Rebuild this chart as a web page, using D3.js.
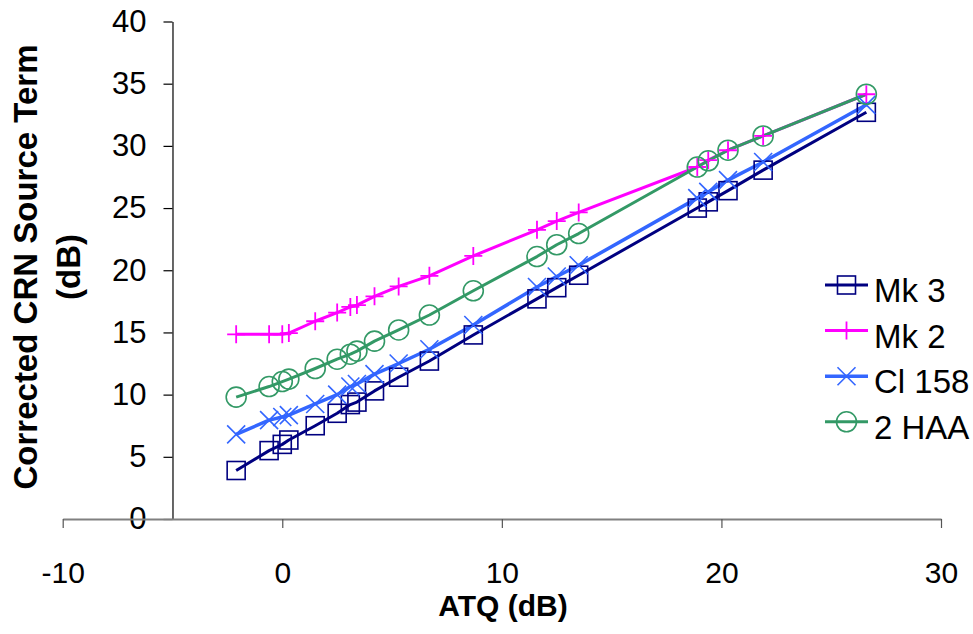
<!DOCTYPE html>
<html>
<head>
<meta charset="utf-8">
<script src="https://cdn.jsdelivr.net/npm/d3@7"></script>
<style>
  body { margin: 0; background: #fff; }
  svg { display: block; font-family: "Liberation Sans", Arial, sans-serif; }
</style>
</head>
<body>
<div id="chart"></div>
<script>
// x values (ATQ, dB) shared by all series
const atq = [-2.1, -0.6, 0.0, 0.3, 1.5, 2.5, 3.1, 3.4, 4.2, 5.3, 6.7, 8.7, 11.6, 12.5, 13.5, 18.9, 19.4, 20.3, 21.9, 26.6];

// corrected CRN source term (dB) per vehicle
const mk3   = [3.9, 5.5, 6.0, 6.35, 7.5, 8.5, 9.2, 9.4, 10.3, 11.4, 12.7, 14.8, 17.7, 18.6, 19.6, 25.0, 25.5, 26.4, 28.05, 32.7];
const mk2   = [14.85, 14.85, 14.85, 14.95, 15.9, 16.6, 17.05, 17.2, 17.9, 18.7, 19.55, 21.15, 23.25, 23.95, 24.65, 28.3, 28.85, 29.65, 30.8, 34.15];
const cl158 = [6.8, 7.95, 8.2, 8.35, 9.25, 10.0, 10.65, 10.85, 11.65, 12.5, 13.65, 15.6, 18.65, 19.5, 20.4, 25.8, 26.3, 27.25, 28.7, 33.3];
const haa2  = [9.8, 10.65, 11.05, 11.25, 12.1, 12.85, 13.25, 13.5, 14.3, 15.2, 16.4, 18.35, 21.1, 22.05, 22.95, 28.3, 28.8, 29.65, 30.8, 34.15];

const seriesNames = ["Mk 3", "Mk 2", "Cl 158", "2 HAA"];
const xTicks = [-10, 0, 10, 20, 30];
const yTicks = [0, 5, 10, 15, 20, 25, 30, 35, 40];

const width = 973;
const height = 634;

const series = [
  { name: seriesNames[0], values: mk3,   color: "#000080", marker: "square", lw: 3 },
  { name: seriesNames[1], values: mk2,   color: "#FF00FF", marker: "plus",   lw: 3 },
  { name: seriesNames[2], values: cl158, color: "#3366FF", marker: "cross",  lw: 3.5 },
  { name: seriesNames[3], values: haa2,  color: "#339966", marker: "circle", lw: 3 }
];

const x = d3.scaleLinear().domain([-10, 30]).range([62.7, 941]);
const y = d3.scaleLinear().domain([0, 40]).range([519, 21.5]);

const svg = d3.select("#chart")
  .append("svg")
  .attr("width", width)
  .attr("height", height);

// plain hyphen for negatives, like the original
const fmt = d => String(d);

// y axis crosses at x = -5, drawn black
const yAxis = svg.append("g")
  .attr("transform", `translate(${x(-5)},0)`)
  .call(d3.axisLeft(y).tickValues(yTicks).tickFormat(fmt).tickSize(9).tickPadding(17).tickSizeOuter(0));
yAxis.select(".domain").attr("stroke", "#000").attr("stroke-width", 1.2);
yAxis.selectAll(".tick line").attr("stroke", "#000").attr("stroke-width", 1.2);
yAxis.selectAll(".tick text")
  .attr("font-size", 31)
  .attr("fill", "#000")
  .attr("font-family", "Liberation Sans, Arial, sans-serif");

// x axis at y = 0, grey
const xAxis = svg.append("g")
  .attr("transform", `translate(0,${y(0)})`)
  .call(d3.axisBottom(x).tickValues(xTicks).tickFormat(fmt).tickSize(9).tickPadding(34).tickSizeOuter(0));
xAxis.select(".domain").attr("stroke", "#808080").attr("stroke-width", 2.2);
xAxis.selectAll(".tick line").attr("stroke", "#555").attr("stroke-width", 1.2);
xAxis.selectAll(".tick text")
  .attr("font-size", 30)
  .attr("fill", "#000")
  .attr("font-family", "Liberation Sans, Arial, sans-serif");

// axis titles
svg.append("text")
  .attr("x", 503)
  .attr("y", 616)
  .attr("text-anchor", "middle")
  .attr("font-size", 30)
  .attr("font-weight", "bold")
  .text("ATQ (dB)");

const yTitle = svg.append("text")
  .attr("transform", "translate(37,267) rotate(-90)")
  .attr("text-anchor", "middle")
  .attr("font-size", 33)
  .attr("font-weight", "bold");
yTitle.append("tspan").attr("x", 0).attr("y", 0).text("Corrected CRN Source Term");
yTitle.append("tspan").attr("x", 0).attr("y", 43).text("(dB)");

// lines first, then markers (like Excel)
const line = d3.line()
  .x((d, i) => x(atq[i]))
  .y(d => y(d));

svg.append("g")
  .attr("fill", "none")
  .selectAll("path")
  .data(series)
  .join("path")
  .attr("stroke", d => d.color)
  .attr("stroke-width", d => d.lw)
  .attr("stroke-linejoin", "round")
  .attr("d", d => line(d.values));

function drawMarker(g, type, color) {
  const s = 9; // half size
  if (type === "square") {
    g.append("rect")
      .attr("x", -s).attr("y", -s).attr("width", 2 * s).attr("height", 2 * s)
      .attr("fill", "none").attr("stroke", color).attr("stroke-width", 1.6);
  } else if (type === "plus") {
    g.append("path")
      .attr("d", `M${-s},0H${s}M0,${-s}V${s}`)
      .attr("stroke", color).attr("stroke-width", 1.8);
  } else if (type === "cross") {
    g.append("path")
      .attr("d", `M${-s},${-s}L${s},${s}M${-s},${s}L${s},${-s}`)
      .attr("stroke", color).attr("stroke-width", 1.6);
  } else {
    g.append("circle")
      .attr("r", 10)
      .attr("fill", "none").attr("stroke", color).attr("stroke-width", 1.6);
  }
}

series.forEach(s => {
  const pts = svg.append("g")
    .selectAll("g")
    .data(s.values)
    .join("g")
    .attr("transform", (d, i) => `translate(${x(atq[i])},${y(d)})`);
  pts.each(function () { drawMarker(d3.select(this), s.marker, s.color); });
});

// legend
const legend = svg.append("g").attr("transform", "translate(825,285)");
const row = legend.selectAll("g")
  .data(series)
  .join("g")
  .attr("transform", (d, i) => `translate(0,${i * 45.6})`);

row.append("line")
  .attr("x1", 0).attr("x2", 43)
  .attr("stroke", d => d.color)
  .attr("stroke-width", d => d.lw);

row.each(function (d) {
  const g = d3.select(this).append("g").attr("transform", "translate(21.5,0)");
  drawMarker(g, d.marker, d.color);
});

row.append("text")
  .attr("x", 49)
  .attr("y", 17)
  .attr("font-size", 33)
  .text(d => d.name);
</script>
</body>
</html>
